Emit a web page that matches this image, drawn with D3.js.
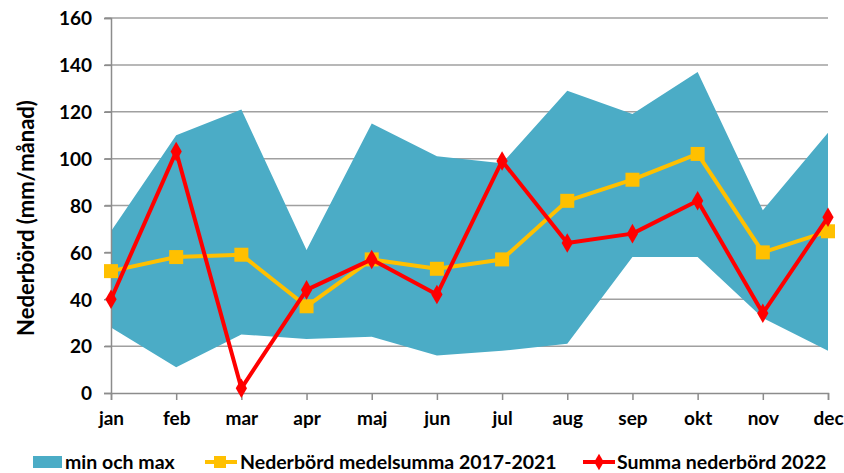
<!DOCTYPE html>
<html>
<head>
<meta charset="utf-8">
<script src="https://cdn.jsdelivr.net/npm/d3@7"></script>
<style>
  body { margin: 0; background: #fff; }
  svg text { font-family: Lato, "Open Sans", sans-serif; font-weight: bold; fill: #000; }
</style>
</head>
<body>
<svg id="chart" width="844" height="473"></svg>
<script>
// month labels
var months = ["jan", "feb", "mar", "apr", "maj", "jun", "jul", "aug", "sep", "okt", "nov", "dec"];
// band: lowest and highest monthly sum
var minVals = [28, 11, 25, 23, 24, 16, 18, 21, 58, 58, 32, 18];
var maxVals = [69, 110, 121, 61, 115, 101, 98, 129, 119, 137, 78, 111];
// mean 2017-2021
var meanVals = [52, 58, 59, 37, 57, 53, 57, 82, 91, 102, 60, 69];
// 2022
var sumVals = [40, 103, 2, 44, 57, 42, 99, 64, 68, 82, 34, 75];
var yTicks = [0, 20, 40, 60, 80, 100, 120, 140, 160];

var svg = d3.select("#chart");
var plotL = 111, plotR = 828, plotT = 18, plotB = 393;

var x = d3.scalePoint().domain(months).range([plotL, plotR]);
var y = d3.scaleLinear().domain([0, 160]).range([plotB, plotT]);

var rows = months.map(function (m, i) {
  return { m: m, lo: minVals[i], hi: maxVals[i], mean: meanVals[i], sum: sumVals[i] };
});

// gridlines
svg.append("g")
  .selectAll("line")
  .data(yTicks.filter(function (t) { return t > 0; }))
  .enter().append("line")
  .attr("x1", plotL - 6).attr("x2", plotR)
  .attr("y1", function (d) { return y(d); })
  .attr("y2", function (d) { return y(d); })
  .style("stroke", "#a0a0a0")
  .style("stroke-width", 1.5);

// min/max band
var area = d3.area()
  .x(function (d) { return x(d.m); })
  .y0(function (d) { return y(d.lo); })
  .y1(function (d) { return y(d.hi); });
svg.append("path").datum(rows).attr("d", area).style("fill", "#4BACC6");

// axes
var yAxis = svg.append("g").attr("transform", "translate(" + plotL + ",0)")
  .call(d3.axisLeft(y).tickValues(yTicks).tickSize(7).tickPadding(12));
var xAxis = svg.append("g").attr("transform", "translate(0," + plotB + ")")
  .call(d3.axisBottom(x).tickSize(7).tickPadding(12));
[yAxis, xAxis].forEach(function (g) {
  g.select(".domain").style("stroke", "#8c8c8c").style("stroke-width", 1.5);
  g.selectAll(".tick line").style("stroke", "#8c8c8c").style("stroke-width", 1.5);
  g.selectAll("text").style("font-size", "19px").style("font-family", "Lato, sans-serif").style("font-weight", "bold").style("fill", "#000");
});
yAxis.selectAll(".tick text").attr("dy", "0.36em");

// mean line
var line = function (key) {
  return d3.line().x(function (d) { return x(d.m); }).y(function (d) { return y(d[key]); });
};
svg.append("path").datum(rows).attr("d", line("mean"))
  .style("fill", "none").style("stroke", "#FFC000").style("stroke-width", 4).style("stroke-linejoin", "round");
svg.append("g").selectAll("rect").data(rows).enter().append("rect")
  .attr("x", function (d) { return x(d.m) - 7; })
  .attr("y", function (d) { return y(d.mean) - 7; })
  .attr("width", 14).attr("height", 14)
  .style("fill", "#FFC000");

// 2022 line
svg.append("path").datum(rows).attr("d", line("sum"))
  .style("fill", "none").style("stroke", "#FF0000").style("stroke-width", 4).style("stroke-linejoin", "round");
var diamond = d3.symbol().type(d3.symbolDiamond).size(110);
svg.append("g").selectAll("path").data(rows).enter().append("path")
  .attr("d", diamond)
  .attr("transform", function (d) { return "translate(" + x(d.m) + "," + y(d.sum) + ")"; })
  .style("fill", "#FF0000");

// y title
svg.append("text")
  .attr("transform", "translate(34,218) rotate(-90)")
  .attr("text-anchor", "middle")
  .style("font-size", "22px")
  .text("Nederbörd (mm/månad)");

// legend
var ly = 462;
var legend = svg.append("g");
legend.append("rect").attr("x", 33).attr("y", ly - 6).attr("width", 29).attr("height", 12).style("fill", "#4BACC6");
legend.append("text").attr("x", 65).attr("y", ly + 7).style("font-size", "19.5px").text("min och max");

legend.append("line").attr("x1", 205).attr("x2", 237).attr("y1", ly).attr("y2", ly)
  .style("stroke", "#FFC000").style("stroke-width", 4);
legend.append("rect").attr("x", 214).attr("y", ly - 6).attr("width", 12).attr("height", 12).style("fill", "#FFC000");
legend.append("text").attr("x", 240).attr("y", ly + 7).style("font-size", "19.5px").text("Nederbörd medelsumma 2017-2021");

legend.append("line").attr("x1", 583).attr("x2", 615).attr("y1", ly).attr("y2", ly)
  .style("stroke", "#FF0000").style("stroke-width", 4);
legend.append("path").attr("d", d3.symbol().type(d3.symbolDiamond).size(80))
  .attr("transform", "translate(599," + ly + ")").style("fill", "#FF0000");
legend.append("text").attr("x", 617).attr("y", ly + 7).style("font-size", "19.5px").text("Summa nederbörd 2022");
</script>
</body>
</html>
